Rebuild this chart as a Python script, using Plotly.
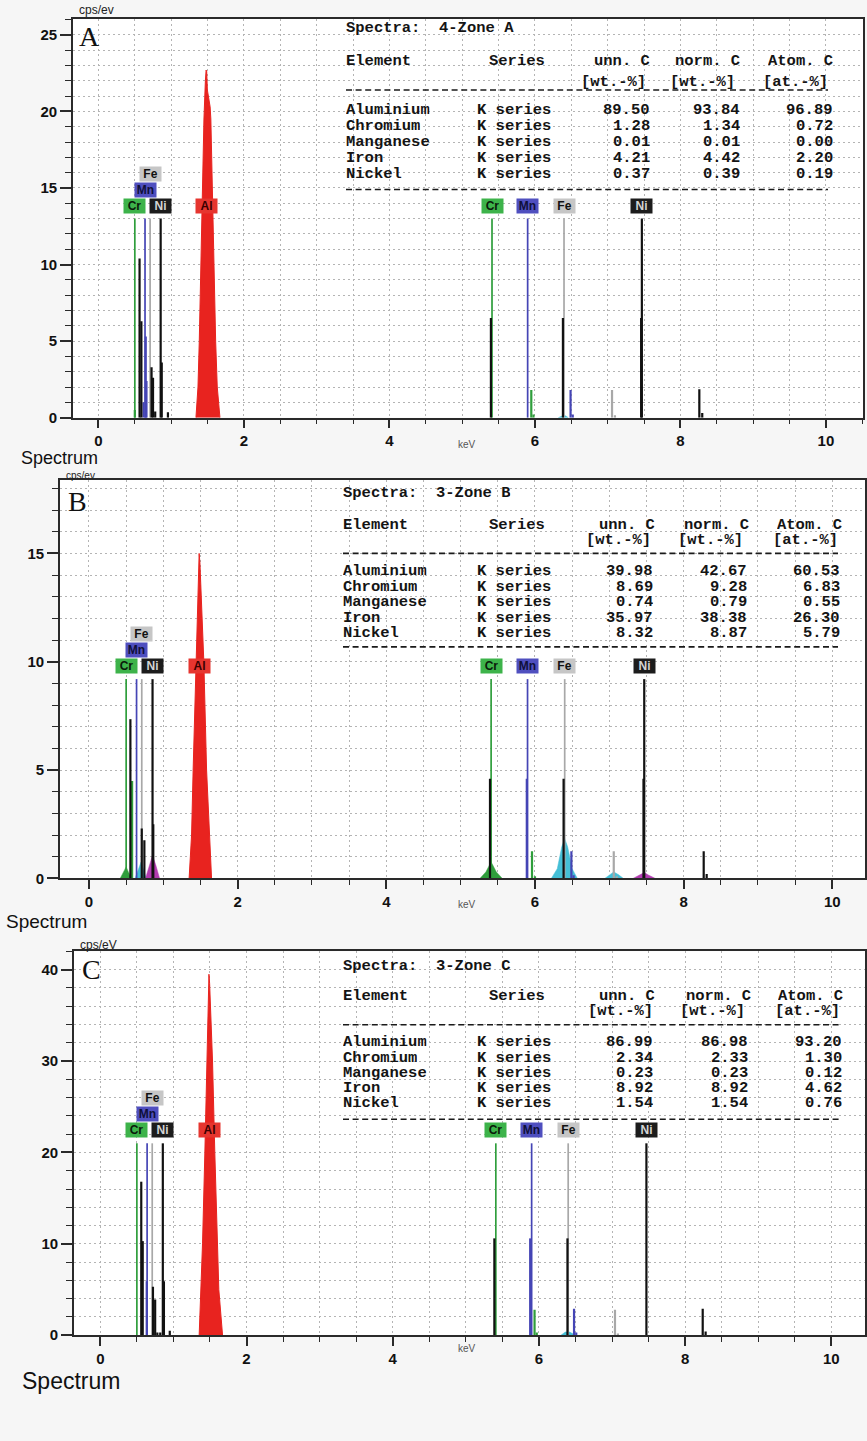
import plotly.graph_objects as go

W, H = 867, 1441

# ------------------------------------------------------------------ data
PANEL_LETTERS = ["A", "B", "C"]
ZONE_NAMES = ["4-Zone A", "3-Zone B", "3-Zone C"]
CPS_TEXT = ["cps/ev", "cps/ev", "cps/eV"]

LINE_ELEMENTS = ["Cr", "Mn", "Fe", "Ni"]
L_LINE_KEV = [0.50, 0.64, 0.71, 0.855]
K_LINE_KEV = [5.41, 5.90, 6.40, 7.47]
AL_LINE_KEV = 1.49
L_LABEL_ROW = [0, 1, 2, 0]
MARKER_HEIGHT = [13.0, 9.2, 21.0]

# Al K peak profiles
AL_X_A = [1.340, 1.368, 1.386, 1.409, 1.427, 1.450, 1.470, 1.480, 1.488, 1.497, 1.515, 1.535, 1.545, 1.564, 1.583, 1.611, 1.633, 1.670]
AL_Y_A = [0.0, 2.0, 5.0, 10.0, 15.0, 19.5, 22.0, 22.7, 22.6, 21.4, 20.8, 20.3, 19.5, 15.0, 10.0, 5.0, 2.0, 0.0]
AL_X_B = [1.347, 1.380, 1.401, 1.437, 1.468, 1.476, 1.482, 1.492, 1.500, 1.513, 1.545, 1.582, 1.617, 1.649]
AL_Y_B = [0.0, 2.0, 5.0, 10.0, 13.0, 14.5, 15.0, 14.6, 13.8, 13.0, 10.0, 5.0, 2.0, 0.0]
AL_X_C = [1.352, 1.379, 1.398, 1.430, 1.461, 1.478, 1.486, 1.495, 1.510, 1.535, 1.566, 1.598, 1.621, 1.672]
AL_Y_C = [0.0, 5.0, 10.0, 20.0, 30.0, 36.0, 39.5, 38.5, 35.0, 30.0, 20.0, 10.0, 5.0, 0.0]

# spectrum sticks: energy, height, colour key
SPIKE_X_A = [0.50, 0.565, 0.59, 0.62, 0.65, 0.66, 0.73, 0.75, 0.78, 0.87, 0.955,
             5.395, 5.95, 5.98, 6.385, 6.49, 6.52, 7.06, 7.10, 7.46, 8.26, 8.30]
SPIKE_H_A = [0.5, 10.4, 6.3, 1.0, 5.3, 2.4, 3.3, 2.6, 0.4, 3.6, 0.35,
             6.5, 1.8, 0.2, 6.5, 1.8, 0.2, 1.8, 0.15, 6.5, 1.85, 0.3]
SPIKE_C_A = ["g", "k", "k", "b", "b", "b", "k", "k", "k", "k", "k",
             "k", "g", "g", "k", "b", "b", "s", "s", "k", "k", "k"]

SPIKE_X_B = [0.557, 0.58, 0.71, 0.745, 0.865,
             5.395, 5.89, 5.96, 6.00, 6.385, 6.49, 6.52, 7.06, 7.10, 7.46, 8.27, 8.31]
SPIKE_H_B = [7.35, 4.5, 2.3, 1.76, 2.5,
             4.6, 4.6, 1.25, 0.1, 4.6, 1.25, 0.15, 1.25, 0.1, 4.6, 1.25, 0.2]
SPIKE_C_B = ["k", "g", "k", "k", "k",
             "k", "b", "g", "g", "k", "b", "b", "s", "s", "k", "k", "k"]

SPIKE_X_C = [0.56, 0.58, 0.635, 0.72, 0.75, 0.78, 0.82, 0.87, 0.95,
             5.39, 5.88, 5.94, 5.97, 6.39, 6.48, 6.51, 7.04, 7.08, 8.24, 8.28]
SPIKE_H_C = [16.8, 10.3, 5.9, 5.3, 3.9, 0.3, 0.3, 5.9, 0.5,
             10.6, 10.6, 2.8, 0.3, 10.6, 2.9, 0.3, 2.8, 0.2, 2.9, 0.4]
SPIKE_C_C = ["k", "k", "b", "k", "k", "k", "k", "k", "k",
             "k", "b", "g", "g", "k", "b", "b", "s", "s", "k", "k"]

# filled deconvolution humps: colour key, energies, heights
HUMPS_A = [("c", [6.32, 6.38, 6.42, 6.46], [0.0, 0.12, 0.12, 0.0])]
HUMPS_B = [
    ("g", [0.42, 0.47, 0.50, 0.53, 0.57], [0.0, 0.3, 0.53, 0.3, 0.0]),
    ("c", [0.62, 0.67, 0.70, 0.73, 0.77], [0.0, 0.45, 0.75, 0.45, 0.0]),
    ("m", [0.76, 0.81, 0.855, 0.90, 0.95], [0.0, 0.6, 1.07, 0.6, 0.0]),
    ("g", [5.26, 5.34, 5.41, 5.48, 5.56], [0.0, 0.3, 0.76, 0.3, 0.0]),
    ("c", [6.22, 6.30, 6.36, 6.40, 6.44, 6.50, 6.57], [0.0, 0.45, 1.45, 1.84, 1.45, 0.45, 0.0]),
    ("c", [6.94, 7.01, 7.06, 7.12, 7.19], [0.0, 0.18, 0.30, 0.18, 0.0]),
    ("m", [7.32, 7.41, 7.47, 7.53, 7.62], [0.0, 0.15, 0.27, 0.15, 0.0]),
]
HUMPS_C = [("c", [6.30, 6.36, 6.42, 6.50], [0.0, 0.35, 0.35, 0.0])]

# quantification tables
TABLE_ELEMENTS = ["Aluminium", "Chromium", "Manganese", "Iron", "Nickel"]
TABLE_SERIES = "K series"
UNN_A = [89.50, 1.28, 0.01, 4.21, 0.37]
NORM_A = [93.84, 1.34, 0.01, 4.42, 0.39]
ATOM_A = [96.89, 0.72, 0.00, 2.20, 0.19]
UNN_B = [39.98, 8.69, 0.74, 35.97, 8.32]
NORM_B = [42.67, 9.28, 0.79, 38.38, 8.87]
ATOM_B = [60.53, 6.83, 0.55, 26.30, 5.79]
UNN_C = [86.99, 2.34, 0.23, 8.92, 1.54]
NORM_C = [86.98, 2.33, 0.23, 8.92, 1.54]
ATOM_C = [93.20, 1.30, 0.12, 4.62, 0.76]
HEADERS_1 = ["unn. C", "norm. C", "Atom. C"]
HEADERS_2 = ["[wt.-%]", "[wt.-%]", "[at.-%]"]

# ------------------------------------------------------------------ styles / layout
COL = {"k": "#111111", "g": "#2f9e3c", "b": "#4545b5", "s": "#a8a8a8",
       "c": "#45bfd6", "m": "#b23cb0", "r": "#e8231f"}
ELEM_COL = {"Cr": "#2f9e3c", "Mn": "#4545b5", "Fe": "#a8a8a8", "Ni": "#111111"}
LABEL_BG = {"Cr": "#3db34a", "Mn": "#4f4fbf", "Fe": "#c6c6c6", "Ni": "#1c1c1c", "Al": "#e6352f"}
LABEL_FG = {"Cr": "#0a1a0a", "Mn": "#10103a", "Fe": "#111111", "Ni": "#d4d4d4", "Al": "#3a0000"}

X_RANGE = [[-0.35, 10.51], [-0.39, 10.44], [-0.36, 10.46]]
Y_RANGE = [[0, 26.04], [0, 18.39], [0, 42.0]]
Y_DTICK = [5, 5, 10]
Y_MINOR = [1, 1, 2]
X_DOM_PX = [[73, 863], [60, 865], [74, 865]]
Y_DOM_PX = [[19, 420], [482.7, 883.3], [956.7, 1342.7]]

TABLE_POS = [
    dict(x_left=346, x_series=489, x_k=477, x_num=[650, 740, 833], x_hdr=[650, 740, 833],
         x_unit=[646, 735, 828], y_title=28, y_h1=61, y_h2=82, y_d1=90.5, x_dash=[346, 828],
         y_rows=[110.5, 126.5, 142.5, 158.5, 174.5], y_d2=190.5, box=[337, 19, 862, 193]),
    dict(x_left=343, x_series=489, x_k=477, x_num=[653, 747, 840], x_hdr=[655, 749, 842],
         x_unit=[651, 743, 838], y_title=496, y_h1=528, y_h2=543, y_d1=556.5, x_dash=[343, 838],
         y_rows=[574.5, 590, 605.5, 621, 637], y_d2=650.5, box=[337, 483, 864, 653]),
    dict(x_left=343, x_series=489, x_k=477, x_num=[653, 748, 842], x_hdr=[655, 751, 843],
         x_unit=[653, 745, 840], y_title=971, y_h1=1002, y_h2=1017, y_d1=1030.5, x_dash=[343, 840],
         y_rows=[1048, 1063.5, 1078.5, 1094, 1109.5], y_d2=1125.5, box=[337, 957, 864, 1128]),
]
LETTER_POS = [(77, 37), (66, 504), (80, 975)]
CPS_POS = [(77, 10, 12), (64, 478, 10), (78, 950, 12)]
SPECTRUM_POS = [(19, 461, 18), (4, 927, 19), (20, 1389, 23)]
KEV_POS = [(467, 447), (467, 910), (467, 1356)]

AL_X = [AL_X_A, AL_X_B, AL_X_C]
AL_Y = [AL_Y_A, AL_Y_B, AL_Y_C]
SPIKES = [(SPIKE_X_A, SPIKE_H_A, SPIKE_C_A), (SPIKE_X_B, SPIKE_H_B, SPIKE_C_B),
          (SPIKE_X_C, SPIKE_H_C, SPIKE_C_C)]
HUMPS = [HUMPS_A, HUMPS_B, HUMPS_C]
TABLES = [(UNN_A, NORM_A, ATOM_A), (UNN_B, NORM_B, ATOM_B), (UNN_C, NORM_C, ATOM_C)]

NB = "\u00a0"
MONO = "Courier New, Liberation Mono, monospace"
SANS = "Liberation Sans, Arial, sans-serif"
GRID = "#b4b4b4"


def px(v):
    return v / W


def py(v):
    return 1 - v / H


def sticks(xs, hs):
    X, Y = [], []
    for x, h in zip(xs, hs):
        X += [x, x, None]
        Y += [0, h, None]
    return X, Y


fig = go.Figure()
annotations = []
shapes = []

for i in range(3):
    sfx = "" if i == 0 else str(i + 1)
    xr, yr = "x" + sfx, "y" + sfx

    # humps
    for ck, hx, hy in HUMPS[i]:
        fig.add_trace(go.Scatter(x=hx, y=hy, xaxis=xr, yaxis=yr, mode="lines", fill="toself",
                                 fillcolor=COL[ck], line=dict(color=COL[ck], width=0.5),
                                 hoverinfo="skip", showlegend=False))
    # Al peak
    fig.add_trace(go.Scatter(x=AL_X[i], y=AL_Y[i], xaxis=xr, yaxis=yr, mode="lines", fill="toself",
                             fillcolor=COL["r"], line=dict(color=COL["r"], width=1),
                             hoverinfo="skip", showlegend=False))
    # element marker lines
    for j, el in enumerate(LINE_ELEMENTS):
        mx, my = sticks([L_LINE_KEV[j], K_LINE_KEV[j]], [MARKER_HEIGHT[i]] * 2)
        fig.add_trace(go.Scatter(x=mx, y=my, xaxis=xr, yaxis=yr, mode="lines",
                                 line=dict(color=ELEM_COL[el], width=2.2 if el == "Ni" else 1.7),
                                 hoverinfo="skip", showlegend=False))
    # spectrum sticks
    sx, sh, sc = SPIKES[i]
    for ck in ["s", "g", "b", "k"]:
        xs = [x for x, c in zip(sx, sc) if c == ck]
        hs = [h for h, c in zip(sh, sc) if c == ck]
        if xs:
            X, Y = sticks(xs, hs)
            fig.add_trace(go.Scatter(x=X, y=Y, xaxis=xr, yaxis=yr, mode="lines",
                                     line=dict(color=COL[ck], width=2.2),
                                     hoverinfo="skip", showlegend=False))

    # element labels
    lab_font = dict(family=SANS, size=12)
    for j, el in enumerate(LINE_ELEMENTS):
        for x, row in [(L_LINE_KEV[j], L_LABEL_ROW[j]), (K_LINE_KEV[j], 0)]:
            annotations.append(dict(x=x, y=MARKER_HEIGHT[i], xref=xr, yref=yr, text="<b>%s</b>" % el,
                                    showarrow=False, yanchor="bottom", xanchor="center",
                                    yshift=5 + 16 * row, width=21, height=14, borderpad=0,
                                    bgcolor=LABEL_BG[el], font=dict(lab_font, color=LABEL_FG[el])))
    annotations.append(dict(x=AL_LINE_KEV, y=MARKER_HEIGHT[i], xref=xr, yref=yr, text="<b>Al</b>",
                            showarrow=False, yanchor="bottom", xanchor="center", yshift=5,
                            width=21, height=14, borderpad=0, bgcolor=LABEL_BG["Al"],
                            font=dict(lab_font, color=LABEL_FG["Al"])))

    # axes
    axis_common = dict(showline=True, mirror=True, linecolor="#2a2a2a", linewidth=1.6,
                       ticks="outside", tickcolor="#2a2a2a", tickwidth=1.5,
                       showgrid=True, gridcolor=GRID, griddash="2px,3px", gridwidth=1,
                       zeroline=False,
                       tickfont=dict(family=SANS, size=15, color="#111111", weight="bold"))
    fig.update_layout(**{
        "xaxis" + sfx: dict(axis_common, domain=[px(X_DOM_PX[i][0]), px(X_DOM_PX[i][1])],
                            range=X_RANGE[i], anchor=yr, tick0=0, dtick=2, ticklen=9,
                            minor=dict(dtick=0.5, ticks="outside", ticklen=5, tickcolor="#2a2a2a",
                                       tickwidth=1.3, showgrid=True, gridcolor=GRID,
                                       griddash="2px,3px", gridwidth=1)),
        "yaxis" + sfx: dict(axis_common, domain=[py(Y_DOM_PX[i][1]), py(Y_DOM_PX[i][0])],
                            range=Y_RANGE[i], anchor=xr, tick0=0, dtick=Y_DTICK[i], ticklen=11,
                            minor=dict(dtick=Y_MINOR[i], ticks="outside", ticklen=6,
                                       tickcolor="#2a2a2a", tickwidth=1.3, showgrid=True,
                                       gridcolor=GRID, griddash="2px,3px", gridwidth=1)),
    })

    # table
    tp = TABLE_POS[i]
    b = tp["box"]
    shapes.append(dict(type="rect", xref="paper", yref="paper", x0=px(b[0]), x1=px(b[2]),
                       y0=py(b[3]), y1=py(b[1]), fillcolor="white", line=dict(width=0),
                       layer="between"))
    for yd in (tp["y_d1"], tp["y_d2"]):
        shapes.append(dict(type="line", xref="paper", yref="paper", x0=px(tp["x_dash"][0]),
                           x1=px(tp["x_dash"][1]), y0=py(yd), y1=py(yd),
                           line=dict(color="#1a1a1a", width=1.6, dash="6px,3.6px")))
    tfont = dict(family=MONO, size=15.5, color="#141414")

    def tann(x, y, text, anchor="left"):
        annotations.append(dict(x=px(x), y=py(y), xref="paper", yref="paper", text="<b>%s</b>" % text,
                                showarrow=False, xanchor=anchor, yanchor="middle", font=tfont,
                                borderpad=0, borderwidth=0, height=14))

    tann(tp["x_left"], tp["y_title"], "Spectra:" + NB * 2 + ZONE_NAMES[i].replace(" ", NB))
    tann(tp["x_left"], tp["y_h1"], "Element")
    tann(tp["x_series"], tp["y_h1"], "Series")
    for k in range(3):
        tann(tp["x_hdr"][k], tp["y_h1"], HEADERS_1[k].replace(" ", NB), "right")
        tann(tp["x_unit"][k], tp["y_h2"], HEADERS_2[k], "right")
    cols = TABLES[i]
    for r, name in enumerate(TABLE_ELEMENTS):
        tann(tp["x_left"], tp["y_rows"][r], name)
        tann(tp["x_k"], tp["y_rows"][r], TABLE_SERIES.replace(" ", NB))
        for k in range(3):
            tann(tp["x_num"][k], tp["y_rows"][r], "%.2f" % cols[k][r], "right")

    # panel decorations
    lx, ly = LETTER_POS[i]
    annotations.append(dict(x=px(lx), y=py(ly), xref="paper", yref="paper", text=PANEL_LETTERS[i],
                            showarrow=False, xanchor="left", yanchor="middle",
                            font=dict(family="Liberation Serif, Times New Roman, serif", size=28,
                                      color="#111111")))
    cx, cy, csz = CPS_POS[i]
    annotations.append(dict(x=px(cx), y=py(cy), xref="paper", yref="paper", text=CPS_TEXT[i],
                            showarrow=False, xanchor="left", yanchor="middle",
                            font=dict(family=SANS, size=csz, color="#222222")))
    sxp, syp, ssz = SPECTRUM_POS[i]
    annotations.append(dict(x=px(sxp), y=py(syp), xref="paper", yref="paper", text="Spectrum",
                            showarrow=False, xanchor="left", yanchor="middle",
                            font=dict(family=SANS, size=ssz, color="#111111")))
    kx, ky = KEV_POS[i]
    annotations.append(dict(x=px(kx), y=py(ky), xref="paper", yref="paper", text="keV",
                            showarrow=False, xanchor="center", yanchor="middle",
                            font=dict(family=SANS, size=10, color="#555555")))

fig.update_layout(width=W, height=H, autosize=False, margin=dict(l=0, r=0, t=0, b=0),
                  paper_bgcolor="#f6f6f6", plot_bgcolor="white", showlegend=False,
                  annotations=annotations, shapes=shapes)

fig.write_html("out.html", config={"displayModeBar": False},
               post_script="document.body.style.margin='0px';document.body.style.overflow='hidden';")
